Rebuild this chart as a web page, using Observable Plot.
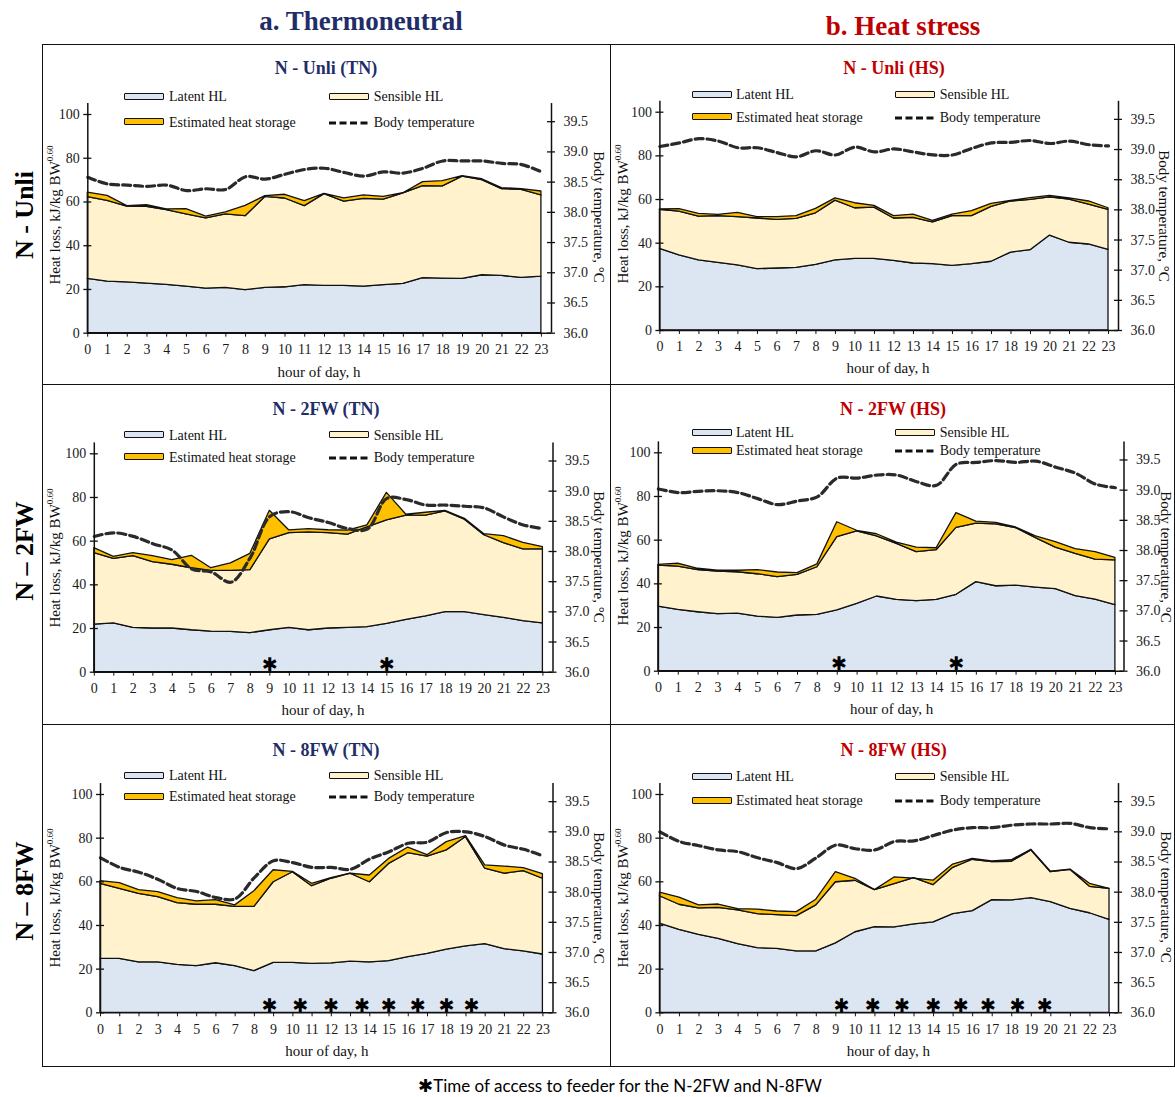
<!DOCTYPE html>
<html>
<head>
<meta charset="utf-8">
<script src="https://cdn.jsdelivr.net/npm/d3@7"></script>
<script src="https://cdn.jsdelivr.net/npm/@observablehq/plot@0.6"></script>
<style>
  body { margin: 0; background: #fff; }
  #page { position: relative; width: 1175px; height: 1097px; overflow: hidden;
          font-family: 'Liberation Serif', 'Times New Roman', serif; color: #111; }
  .abs { position: absolute; white-space: nowrap; }
  .ctr { transform: translate(-50%, -50%); }
  .rotL { transform: translate(-50%, -50%) rotate(-90deg); }
  .rotR { transform: translate(-50%, -50%) rotate(90deg); }
  .leg { position: absolute; font-size: 14px; transform: translateY(-50%); color: #111; }
  .ptitle { font-weight: bold; font-size: 18px; }
  .axt { font-size: 15px; color: #111; }
  .frame { position: absolute; background: #111; }
  .plotsvg { position: absolute; }
  svg.dash { display: block; }
</style>
</head>
<body>
<div id="page"></div>
<script>
// ---------- data ----------
const hours = [0,1,2,3,4,5,6,7,8,9,10,11,12,13,14,15,16,17,18,19,20,21,22,23];
const leftTicks = [0,20,40,60,80,100];
const tempTicks = [36.0,36.5,37.0,37.5,38.0,38.5,39.0,39.5];

// N - Unli (TN)
const latentTNUnli   = [24.8,23.6,23.2,22.7,22.1,21.3,20.4,20.7,19.7,20.7,21.0,22.0,21.6,21.6,21.3,22.0,22.6,25.2,25.0,24.8,26.5,26.2,25.3,25.9];
const sensibleTNUnli = [37.4,36.9,34.7,35.1,34.2,33.0,32.1,33.6,33.8,41.6,40.6,36.1,42.0,38.6,40.1,39.1,41.3,42.0,42.1,46.8,43.5,39.7,40.2,37.1];
const storageTNUnli  = [2.1,2.3,0.2,0.7,0.3,2.4,0.8,0.9,4.7,0.4,1.7,2.3,0.1,1.4,1.6,1.2,0.1,1.9,2.4,0.2,0.4,0.4,0.4,1.8];
const tempTNUnli     = [38.58,38.47,38.45,38.43,38.45,38.36,38.39,38.38,38.59,38.55,38.63,38.71,38.73,38.66,38.60,38.67,38.65,38.73,38.85,38.85,38.85,38.81,38.79,38.67];

// N - Unli (HS)
const latentHSUnli   = [37.4,34.4,32.1,31.0,29.8,28.1,28.4,28.7,30.1,32.1,32.8,32.8,31.9,30.7,30.4,29.6,30.4,31.5,35.7,36.8,43.5,40.2,39.4,36.9];
const sensibleHSUnli = [17.9,20.1,20.1,21.4,22.1,23.2,22.3,22.4,23.6,27.4,23.2,23.5,19.4,20.9,19.1,22.8,22.0,25.1,23.4,23.0,17.5,19.8,18.3,18.4];
const storageHSUnli  = [0.2,1.1,1.2,0.6,2.0,0.6,1.2,1.3,2.0,1.0,2.3,0.8,1.1,1.5,0.7,0.7,2.3,1.4,0.3,0.8,0.7,0.5,1.4,0.7];
const tempHSUnli     = [39.05,39.11,39.18,39.14,39.03,39.03,38.95,38.88,38.98,38.91,39.04,38.96,39.01,38.96,38.91,38.91,39.02,39.11,39.12,39.15,39.10,39.14,39.08,39.06];

// N - 2FW (TN)
const latentTN2FW   = [21.8,22.4,20.3,20.0,20.0,19.2,18.6,18.5,17.9,19.2,20.3,19.2,20.0,20.3,20.6,22.1,24.0,25.6,27.5,27.5,26.1,24.9,23.4,22.4];
const sensibleTN2FW = [32.7,29.5,32.8,30.4,29.2,28.4,27.8,27.9,28.8,41.6,43.4,44.8,43.7,42.7,45.7,47.4,47.7,46.1,46.1,42.3,36.6,34.2,32.8,33.9];
const storageTN2FW  = [2.3,0.9,1.4,2.7,2.1,5.7,1.2,3.4,7.5,13.1,1.2,1.5,1.3,1.8,0.9,12.6,0.4,1.3,0.3,0.4,0.5,3.2,3.0,1.0];
const tempTN2FW     = [38.25,38.31,38.25,38.13,38.02,37.71,37.66,37.49,37.90,38.58,38.66,38.56,38.48,38.38,38.37,38.88,38.86,38.77,38.77,38.75,38.72,38.57,38.44,38.38];
const feedTN2FW     = [9, 15];

// N - 2FW (HS)
const latentHS2FW   = [29.6,28.1,27.0,26.1,26.4,25.0,24.4,25.5,25.8,27.8,30.8,34.2,32.7,32.1,32.7,35.0,40.8,38.9,39.2,38.3,37.6,34.4,32.8,30.2];
const sensibleHS2FW = [18.8,19.8,19.3,19.5,18.9,19.4,18.7,18.6,21.8,33.6,33.2,27.5,25.6,22.4,22.7,30.6,26.8,28.3,26.3,22.6,19.0,19.3,18.3,20.5];
const storageHS2FW  = [0.3,1.3,0.6,0.4,0.7,1.9,2.1,0.8,1.3,6.8,0.3,1.0,0.6,2.1,0.9,6.8,0.9,0.7,0.3,0.8,2.5,2.2,3.4,1.2];
const tempHS2FW     = [39.02,38.96,38.98,38.99,38.96,38.86,38.76,38.82,38.89,39.20,39.20,39.25,39.25,39.14,39.08,39.43,39.46,39.49,39.46,39.48,39.38,39.28,39.10,39.04];
const feedHS2FW     = [9.1, 15];

// N - 8FW (TN)
const latentTN8FW   = [24.7,24.7,23.1,23.1,22.0,21.4,22.7,21.4,19.1,22.9,22.9,22.4,22.6,23.4,23.1,23.7,25.5,27.0,28.9,30.4,31.5,29.2,28.1,26.7];
const sensibleTN8FW = [34.4,32.1,31.4,29.9,28.2,28.1,26.8,27.1,29.4,36.9,41.5,35.6,38.8,40.3,36.7,44.5,47.6,44.5,45.5,50.1,34.5,34.5,36.8,34.7];
const storageTN8FW  = [1.2,2.6,1.7,2.3,2.3,1.5,2.1,0.7,7.2,5.5,0.2,1.1,0.3,0.0,3.1,2.3,2.6,0.7,3.8,0.4,1.5,3.3,1.4,2.1];
const tempTN8FW     = [38.57,38.41,38.33,38.21,38.06,38.01,37.91,37.89,38.24,38.52,38.49,38.41,38.41,38.38,38.55,38.67,38.81,38.83,38.99,39.00,38.92,38.78,38.71,38.60];
const feedTN8FW     = [8.8,10.4,12,13.6,15,16.5,18,19.3];

// N - 8FW (HS)
const latentHS8FW   = [40.8,38.0,35.7,33.9,31.5,29.6,29.3,28.1,28.1,31.8,36.9,39.2,39.1,40.5,41.4,45.2,46.6,51.6,51.5,52.5,50.7,47.6,45.6,42.6];
const sensibleHS8FW = [12.6,11.5,12.1,14.2,15.4,15.6,15.4,16.2,21.1,28.0,23.6,17.0,19.8,21.2,17.1,21.2,23.5,17.4,17.7,21.9,13.7,17.9,12.1,14.2];
const storageHS8FW  = [1.6,3.3,1.4,1.5,0.6,2.1,1.7,1.8,2.6,4.6,0.9,0.0,3.1,-0.2,2.0,1.5,0.4,0.3,0.7,0.3,0.3,0.1,1.4,0.0];
const tempHS8FW     = [39.00,38.84,38.77,38.70,38.67,38.57,38.49,38.39,38.57,38.78,38.72,38.70,38.84,38.85,38.94,39.03,39.07,39.07,39.11,39.13,39.13,39.14,39.07,39.05];
const feedHS8FW     = [9.3,10.9,12.4,14,15.4,16.8,18.3,19.7];

// ---------- colours ----------
const NAVY = "#1f2d68", RED = "#c00000";
const C_LAT = "#dce6f2", C_SEN = "#fff2cc", C_STO = "#ffc000";

// ---------- layout (page px) ----------
const colL = {sw1: 123.6, tx1: 169, sw2: 329, tx2: 373.7};
const colR = {sw1: 692, tx1: 736, sw2: 894.7, tx2: 939.7};
const panels = [
  {title: "N - Unli (TN)", color: NAVY, cell: [42,44,568,340], x0: 87.3, x23: 540.9, xR: 551, y0: 332.7, y100: 114,
   tp: [326,68.3], lg: [97.3,122.7], lx: colL, yl: [55,215], rl: [598,217], xl: [319,371.7],
   L: latentTNUnli, S: sensibleTNUnli, H: storageTNUnli, T: tempTNUnli, F: []},
  {title: "N - Unli (HS)", color: RED, cell: [610,44,565,340], x0: 659.4, x23: 1108, xR: 1118, y0: 330, y100: 111.7,
   tp: [894,68.3], lg: [95,117.7], lx: colR, yl: [622.6,214], rl: [1163,216], xl: [888,368],
   L: latentHSUnli, S: sensibleHSUnli, H: storageHSUnli, T: tempHSUnli, F: []},
  {title: "N - 2FW (TN)", color: NAVY, cell: [42,384,568,340], x0: 93.8, x23: 542.4, xR: 552.5, y0: 671.7, y100: 453.3,
   tp: [326,409], lg: [435.7,457.7], lx: colL, yl: [54.5,557.5], rl: [598,556.7], xl: [323,710],
   L: latentTN2FW, S: sensibleTN2FW, H: storageTN2FW, T: tempTN2FW, F: feedTN2FW},
  {title: "N - 2FW (HS)", color: RED, cell: [610,384,565,340], x0: 657.9, x23: 1114.9, xR: 1123.5, y0: 670.7, y100: 452.3,
   tp: [893,409], lg: [433.3,451], lx: colR, yl: [622.6,555.8], rl: [1165,556.7], xl: [891.6,709],
   L: latentHS2FW, S: sensibleHS2FW, H: storageHS2FW, T: tempHS2FW, F: feedHS2FW},
  {title: "N - 8FW (TN)", color: NAVY, cell: [42,724,568,342], x0: 100, x23: 542.4, xR: 552.5, y0: 1012.3, y100: 794,
   tp: [326,750], lg: [776,797], lx: colL, yl: [54.5,897.5], rl: [598,897.5], xl: [326.8,1051],
   L: latentTN8FW, S: sensibleTN8FW, H: storageTN8FW, T: tempTN8FW, F: feedTN8FW},
  {title: "N - 8FW (HS)", color: RED, cell: [610,724,565,342], x0: 659.4, x23: 1109, xR: 1118, y0: 1012.3, y100: 794,
   tp: [893.6,750], lg: [777.3,801], lx: colR, yl: [622.6,897.5], rl: [1165,897], xl: [888.4,1051],
   L: latentHS8FW, S: sensibleHS8FW, H: storageHS8FW, T: tempHS8FW, F: feedHS8FW}
];

const page = document.getElementById("page");
function addDiv(cls, x, y, html, style = "") {
  const d = document.createElement("div");
  d.className = "abs " + cls;
  d.style.cssText = `left:${x}px;top:${y}px;` + style;
  d.innerHTML = html;
  page.appendChild(d);
  return d;
}

const YMAX = 105, TMIN = 36.0, TMAX = 39.8;
const toLeft = t => (t - TMIN) / (TMAX - TMIN) * YMAX;
const fromLeft = v => TMIN + v / YMAX * (TMAX - TMIN);

for (const p of panels) {
  const [cx, cy, cw, ch] = p.cell;
  const pxH = (p.x23 - p.x0) / 23;
  const xMax = 23 + (p.xR - p.x23) / pxH;
  const pxU = (p.y0 - p.y100) / 100;
  const yTop = p.y0 - YMAX * pxU;
  const rows = hours.map((h, i) => ({
    h, lat: p.L[i], sen: p.L[i] + p.S[i], tot: p.L[i] + p.S[i] + p.H[i], temp: p.T[i]
  }));
  const tk = 4 / pxH;
  const chart = Plot.plot({
    width: cw, height: ch,
    marginLeft: p.x0 - cx, marginRight: cx + cw - p.xR,
    marginTop: yTop - cy, marginBottom: cy + ch - p.y0,
    x: {domain: [0, xMax]},
    y: {domain: [0, YMAX]},
    style: {fontFamily: "'Liberation Serif', 'Times New Roman', serif", fontSize: "14px", background: "transparent", color: "#1a1a1a"},
    marks: [
      Plot.areaY(rows, {x: "h", y1: 0, y2: "lat", fill: C_LAT, stroke: "#111", strokeWidth: 1.3}),
      Plot.areaY(rows, {x: "h", y1: "lat", y2: "sen", fill: C_SEN, stroke: "#111", strokeWidth: 1.3}),
      Plot.areaY(rows, {x: "h", y1: "sen", y2: "tot", fill: C_STO, stroke: "#111", strokeWidth: 1.3}),
      Plot.line(rows, {x: "h", y: d => toLeft(d.temp), stroke: "#2a2a2a", strokeWidth: 3.2, strokeDasharray: "8,4", curve: "catmull-rom"}),
      Plot.text(p.F, {x: d => d, y: 3.3, text: () => "\u2731", fontSize: 19, fill: "#000", fontFamily: "DejaVu Sans"}),
      // axis lines
      Plot.ruleX([0], {y1: 0, y2: YMAX, stroke: "#111", strokeWidth: 1.5}),
      Plot.ruleX([xMax], {y1: 0, y2: YMAX, stroke: "#111", strokeWidth: 1.5}),
      Plot.ruleY([0], {x1: 0, x2: xMax, stroke: "#111", strokeWidth: 1.5}),
      // crossing tick marks
      Plot.ruleY(leftTicks, {y: d => d, x1: () => -tk, x2: () => tk, stroke: "#111", strokeWidth: 1.3}),
      Plot.ruleY(tempTicks, {y: d => toLeft(d), x1: () => xMax - tk, x2: () => xMax + tk, stroke: "#111", strokeWidth: 1.3}),
      // axes
      Plot.axisY(leftTicks, {anchor: "left", tickSize: 0, tickPadding: 8, label: null, fontSize: 14}),
      Plot.axisY(tempTicks.map(toLeft), {anchor: "right", tickSize: 0, tickPadding: 12, label: null, fontSize: 14,
        tickFormat: v => fromLeft(v).toFixed(1)}),
      Plot.axisX(hours, {anchor: "bottom", tickSize: 4, tickPadding: 7, label: null, fontSize: 14, stroke: "#111"})
    ]
  });
  chart.classList.add("plotsvg");
  chart.style.left = cx + "px";
  chart.style.top = cy + "px";
  page.appendChild(chart);

  // title
  addDiv("ctr ptitle", p.tp[0], p.tp[1], p.title, `color:${p.color};`);
  // legend
  const {sw1, tx1, sw2, tx2} = p.lx;
  const [r1, r2] = p.lg;
  const sw = (x, y, fill) => addDiv("", x, y - 4.5, "", `width:38px;height:5px;border:1.6px solid #111;border-radius:1px;background:${fill};`);
  sw(sw1, r1, C_LAT); addDiv("leg", tx1, r1, "Latent HL");
  sw(sw2, r1, C_SEN); addDiv("leg", tx2, r1, "Sensible HL");
  sw(sw1, r2, C_STO); addDiv("leg", tx1, r2, "Estimated heat storage");
  addDiv("", sw2, r2 - 2, `<svg class="dash" width="42" height="4"><line x1="0" y1="2" x2="42" y2="2" stroke="#111" stroke-width="3.2" stroke-dasharray="7,3.5"/></svg>`, "line-height:0;");
  addDiv("leg", tx2, r2, "Body temperature");
  // axis titles
  addDiv("rotL axt", p.yl[0], p.yl[1], "Heat loss, kJ/kg BW<sup style='font-size:9px;vertical-align:7px;line-height:0'>0.60</sup>");
  addDiv("rotR axt", p.rl[0], p.rl[1], "Body temperature, \u00b0C");
  addDiv("ctr axt", p.xl[0], p.xl[1], "hour of day, h");
}

// frame lines
const frame = (x, y, w, h) => addDiv("frame", x, y, "", `width:${w}px;height:${h}px;`);
frame(41.5, 43.5, 1134, 1.6);
frame(41.5, 383.5, 1134, 1.6);
frame(41.5, 723.5, 1134, 1.6);
frame(41.5, 1065.5, 1134, 1.6);
frame(41.5, 43.5, 1.6, 1023.5);
frame(609.5, 43.5, 1.6, 1023.5);
frame(1173.6, 43.5, 1.6, 1023.5);

// column headers
addDiv("ctr", 361, 21, "a. Thermoneutral", `font-weight:bold;font-size:27px;color:${NAVY};`);
addDiv("ctr", 903, 26, "b. Heat stress", `font-weight:bold;font-size:27px;color:${RED};`);
// row labels
addDiv("rotL", 25, 215, "N - Unli", "font-weight:bold;font-size:26px;color:#000;");
addDiv("rotL", 25, 551, "N \u2013 2FW", "font-weight:bold;font-size:26px;color:#000;");
addDiv("rotL", 25, 891, "N \u2013 8FW", "font-weight:bold;font-size:26px;color:#000;");
// footer
addDiv("ctr", 620, 1085, "<span style=\"font-family:'DejaVu Sans';font-size:18px;\">\u2731</span>Time of access to feeder for the N-2FW and N-8FW",
  "font-family:Lato,'Open Sans',sans-serif;font-size:17px;color:#000;");
</script>
</body>
</html>
